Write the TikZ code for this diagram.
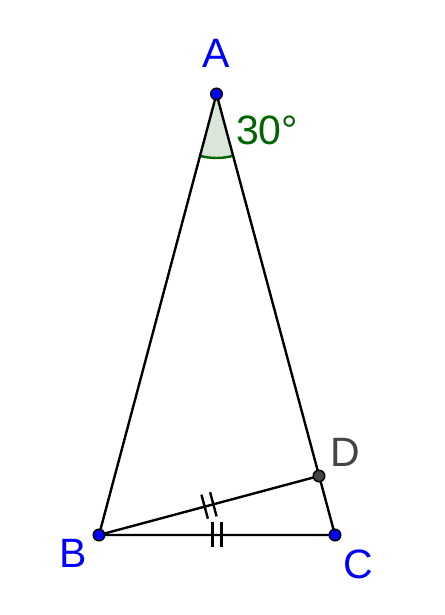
\documentclass[tikz,border=0pt]{standalone}
\usepackage{fontspec}
\setmainfont{Liberation Sans}
\usetikzlibrary{calc,angles}
\definecolor{ptblue}{RGB}{0,0,255}
\definecolor{dgreen}{RGB}{0,100,0}
\definecolor{lgreen}{RGB}{217,230,217}
\definecolor{dgray}{RGB}{68,68,68}
\tikzset{
  seg/.style={line width=2.4pt, black},
  pt/.style={circle, draw=black, line width=1.5pt, inner sep=0pt, minimum size=11.5pt},
  lbl/.style={font=\fontsize{41}{44}\selectfont, inner sep=0pt},
  tick/.style={line width=2.4pt, black}
}
\begin{document}
\begin{tikzpicture}[x=1pt,y=1pt]
\useasboundingbox (0,0) rectangle (444,615);
\coordinate (A) at (216.5,521);
\coordinate (B) at (99,80);
\coordinate (C) at (335,80);
\coordinate (D) at (319,139);
\pic[draw=dgreen, fill=lgreen, line width=2.4pt, angle radius=64pt] {angle = B--A--C};
\draw[seg] (A) -- (B) -- (C) -- (A);
\draw[seg] (B) -- (D);
% tick marks
\foreach \P/\Q in {B/D, B/C}{
  \coordinate (m) at ($(\P)!0.5!(\Q)$);
  \coordinate (t1) at ($(m)!4.5pt!(\Q)$);
  \coordinate (t2) at ($(m)!-4.5pt!(\Q)$);
  \draw[tick] ($(t1)!12.5pt!90:(\Q)$) -- ($(t1)!12.5pt!-90:(\Q)$);
  \draw[tick] ($(t2)!12.5pt!90:(\Q)$) -- ($(t2)!12.5pt!-90:(\Q)$);
}
\node[pt, fill=ptblue] (nA) at (A) {};
\node[pt, fill=ptblue] (nB) at (B) {};
\node[pt, fill=ptblue] (nC) at (C) {};
\node[pt, fill=dgray] (nD) at (D) {};
\node[lbl, text=ptblue] (lA) at (216,562) {A};
\node[lbl, text=ptblue] (lB) at (73,62) {B};
\node[lbl, text=ptblue] (lC) at (358,51) {C};
\node[lbl, text=dgray] (lD) at (345,163) {D};
\node[lbl, text=dgreen] (ang) at (267,485) {30°};
\end{tikzpicture}
\end{document}
